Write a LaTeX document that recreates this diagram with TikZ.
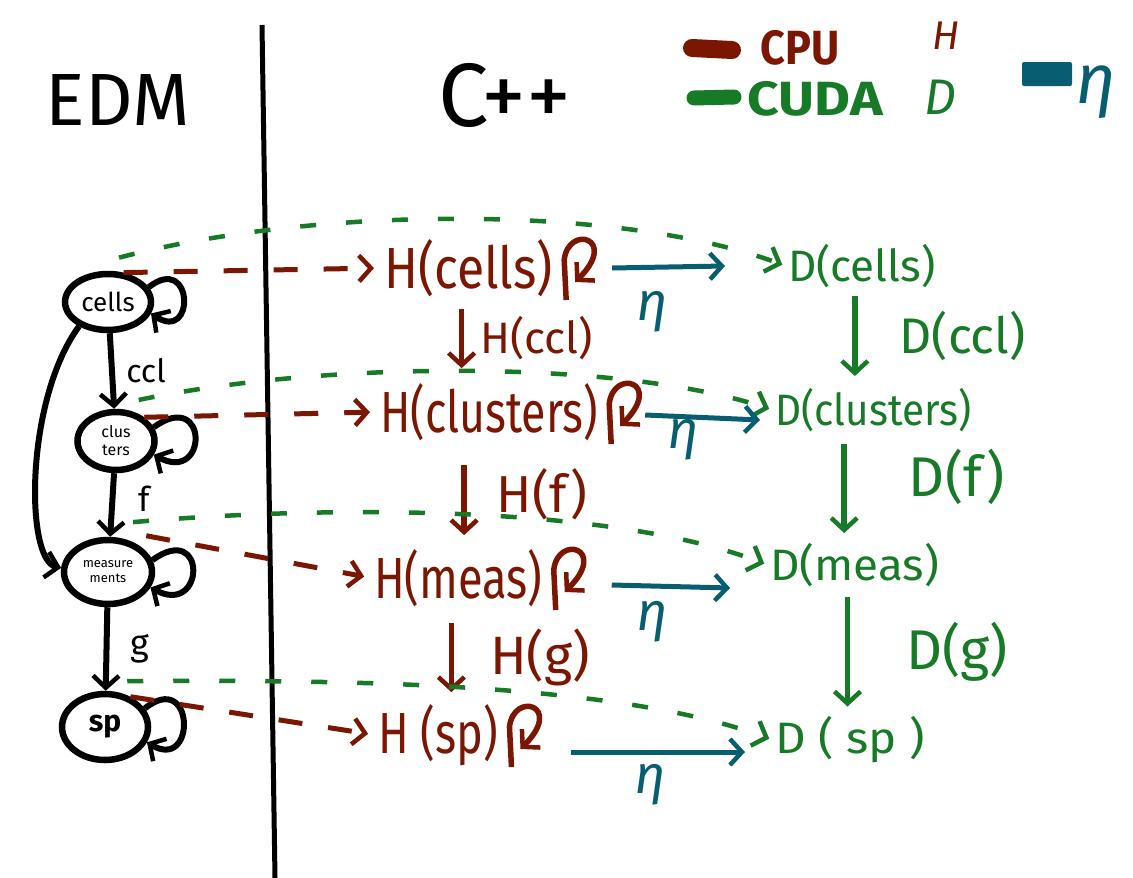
\documentclass[tikz,border=0pt]{standalone}
\usepackage{fontspec}
\usepackage{graphicx}
\setmainfont{Fira Sans}
\usetikzlibrary{shapes.geometric,arrows.meta}
\definecolor{cpucol}{RGB}{122,22,2}
\definecolor{cudacol}{RGB}{22,122,38}
\definecolor{etacol}{RGB}{8,94,112}
\newcommand{\fsz}[1]{\fontsize{#1}{#1}\selectfont}
\newcommand{\wide}[2]{\scalebox{#1}[1]{#2}}

\tikzset{
  barb/.style={-{Straight Barb[length=12pt,width=26pt,line width=4.5pt]}},
  edmnode/.style={draw, ellipse, line width=6.5pt, inner sep=0pt, align=center},
  edmedge/.style={line width=6pt, barb},
  hbox/.style={text=cpucol, font=\fsz{58}, inner sep=2pt},
  dbox/.style={text=cudacol, font=\fsz{44}, inner sep=2pt},
  cpudash/.style={cpucol, line width=5pt, dash pattern=on 24pt off 26pt, barb, shorten >=8pt},
  cudadash/.style={cudacol, line width=4.5pt, dash pattern=on 16pt off 30pt, barb, shorten >=4pt},
  etaarrow/.style={etacol, line width=5pt, barb},
  etalbl/.style={text=etacol, font=\fsz{54}\itshape},
  hstep/.style={cpucol, line width=5.5pt, barb},
  dstep/.style={cudacol, line width=5.5pt, barb},
  hloop/.style={cpucol, line width=5.5pt, barb}
}

\begin{document}
\begin{tikzpicture}[x=1pt,y=-1pt]
\useasboundingbox (0,0) rectangle (1133,878);

% titles and separator
\node[font=\fsz{74}] (edmtitle) at (118,100) {EDM};
\node[font=\fsz{90}] (cpptitle) at (505,95) {C++};
\draw[line width=5pt] (262,25) -- (275,878);

% legend
\draw[cpucol, line width=18pt, line cap=round] (692,48) -- (732,50);
\node[text=cpucol, font=\fsz{48}\bfseries] (cpu) at (800,48) {\wide{0.9}{CPU}};
\node[text=cpucol, font=\fsz{40}\itshape] (hleg) at (946,36) {H};
\draw[cudacol, line width=15pt, line cap=round] (694,98) -- (734,97);
\node[text=cudacol, font=\fsz{48}\bfseries] (cuda) at (815,99) {\wide{1.15}{CUDA}};
\node[text=cudacol, font=\fsz{50}\itshape] (dleg) at (940,97) {D};
\fill[etacol, rounded corners=2pt] (1022,62) rectangle (1072,86);
\node[etalbl, font=\fsz{70}\itshape] (etaleg) at (1096,92) {η};

% EDM graph
\node[edmnode, minimum width=86pt, minimum height=56pt, font=\fsz{26}] (cells) at (108,302) {cells};
\node[edmnode, minimum width=77pt, minimum height=58pt, font=\fontsize{16}{18}\selectfont] (clusters) at (116,441) {clus\\ters};
\node[edmnode, minimum width=88pt, minimum height=64pt, font=\fontsize{13}{15}\selectfont] (meas) at (108,572) {measure\\ments};
\node[edmnode, minimum width=86pt, minimum height=66pt, font=\fsz{30}\bfseries] (sp) at (105,727) {sp};

\draw[edmedge] (cells) -- node[right=8pt, font=\fsz{32}] (ccl) {ccl} (clusters);
\draw[edmedge] (clusters) -- node[right=20pt, yshift=6pt, font=\fsz{34}] (fl) {f} (meas);
\draw[edmedge] (meas) -- node[right=18pt, font=\fsz{36}] (gl) {g} (sp);
\draw[edmedge] (cells.220) .. controls (25,400) and (25,560) .. (meas.175);
\draw[edmedge] (cells.20) .. controls +(45,-35) and +(45,30) .. (cells.-15);
\draw[edmedge] (clusters.20) .. controls +(55,-40) and +(55,30) .. (clusters.-20);
\draw[edmedge] (meas.15) .. controls +(55,-40) and +(55,30) .. (meas.-20);
\draw[edmedge] (sp.25) .. controls +(50,-40) and +(50,30) .. (sp.-20);

% host column
\node[hbox, anchor=west] (hcells) at (382,268) {\wide{0.86}{H(cells)}};
\node[hbox, anchor=west] (hclusters) at (378,412) {\wide{0.77}{H(clusters)}};
\node[hbox, anchor=west] (hmeas) at (372,578) {\wide{0.78}{H(meas)}};
\node[hbox, anchor=west] (hsp) at (376,735) {\wide{0.78}{H (sp)}};

% device column
\node[dbox, anchor=west] (dcells) at (786,266) {D(cells)};
\node[dbox, anchor=west] (dclusters) at (773,410) {\wide{0.92}{D(clusters)}};
\node[dbox, anchor=west] (dmeas) at (768,565) {\wide{1.04}{D(meas)}};
\node[dbox, anchor=west] (dsp) at (773,740) {\wide{1.08}{D ( sp )}};

% steps on host and device
\coordinate (hs1) at ([xshift=-7pt,yshift=-10pt]hcells.south);
\coordinate (he1) at ([yshift=13pt]hclusters.north);
\coordinate (hs2) at ([xshift=-25pt,yshift=-22pt]hclusters.south);
\coordinate (he2) at ([yshift=12pt]hmeas.north);
\coordinate (hs3) at ([xshift=-7pt,yshift=-14pt]hmeas.south);
\coordinate (he3) at ([yshift=10pt]hsp.north);
\draw[hstep] (hs1) -- node[hbox, font=\fsz{44}, right=14pt] (hccl) {H(ccl)} (hs1 |- he1);
\draw[hstep] (hs2) -- node[hbox, font=\fsz{52}, right=28pt, yshift=6pt] (hf) {H(f)} (hs2 |- he2);
\draw[hstep] (hs3) -- node[hbox, font=\fsz{54}, right=34pt] (hg) {H(g)} (hs3 |- he3);
\coordinate (ds1) at ([xshift=-7pt,yshift=-6pt]dcells.south);
\coordinate (de1) at ([yshift=10pt]dclusters.north);
\coordinate (ds2) at ([xshift=-29pt,yshift=-10pt]dclusters.south);
\coordinate (de2) at ([yshift=8pt]dmeas.north);
\coordinate (ds3) at ([xshift=-7pt,yshift=-8pt]dmeas.south);
\coordinate (de3) at ([yshift=8pt]dsp.north);
\draw[dstep] (ds1) -- node[dbox, font=\fsz{50}, right=40pt] (dccl) {D(ccl)} (ds1 |- de1);
\draw[dstep] (ds2) -- node[dbox, font=\fsz{56}, right=60pt, yshift=12pt] (df) {D(f)} (ds2 |- de2);
\draw[dstep] (ds3) -- node[dbox, font=\fsz{56}, right=54pt] (dg) {D(g)} (ds3 |- de3);

% host self loops
\foreach \h in {hcells,hclusters,hmeas,hsp}
  \draw[hloop, shift={(\h.east)}] (11,32) -- (9,-8) .. controls (13,-44) and (64,-30) .. (20,14);

% copies to host
\draw[cpudash] (cells.62) -- (hcells.west);
\draw[cpudash] (clusters.40) -- (hclusters.west);
\draw[cpudash] ([xshift=10pt,yshift=8pt]meas.45) -- (hmeas.west);
\draw[cpudash] (sp.50) -- (hsp.west);

% copies to device
\draw[cudadash] ([yshift=14pt]cells.70) .. controls (320,205) and (620,205) .. (dcells.west);
\draw[cudadash] ([yshift=14pt]clusters.50) .. controls (330,360) and (620,360) .. (dclusters.west);
\draw[cudadash] ([yshift=20pt]meas.50) .. controls (330,505) and (610,505) .. (dmeas.west);
\draw[cudadash] ([yshift=14pt]sp.55) .. controls (320,680) and (610,680) .. (dsp.west);

% transfers host to device
\draw[etaarrow] ([xshift=57pt]hcells.east) -- ([xshift=-61pt]dcells.west);
\draw[etaarrow] ([xshift=45pt,yshift=-3pt]hclusters.east) -- ([xshift=-13pt,yshift=-10pt]dclusters.west);
\draw[etaarrow] ([xshift=67pt,yshift=-7pt]hmeas.east) -- ([xshift=-38pt,yshift=-23pt]dmeas.west);
\draw[etaarrow] ([xshift=71pt,yshift=-17pt]hsp.east) -- ([xshift=-28pt,yshift=-12pt]dsp.west);
\node[etalbl] (eta1) at (652,312) {η};
\node[etalbl] (eta2) at (683,440) {η};
\node[etalbl] (eta3) at (652,622) {η};
\node[etalbl] (eta4) at (650,785) {η};
\end{tikzpicture}
\end{document}
